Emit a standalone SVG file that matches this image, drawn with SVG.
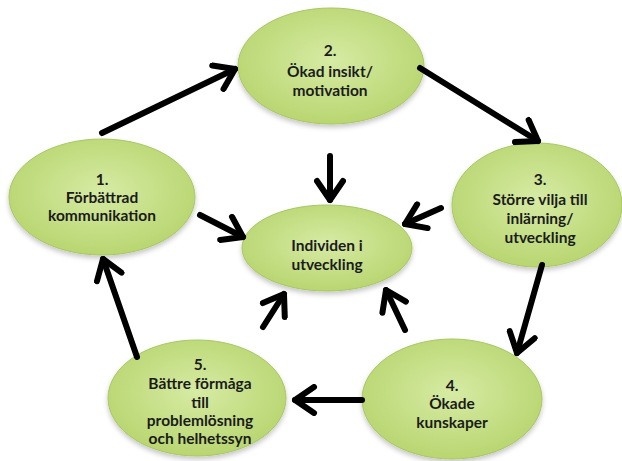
<svg xmlns="http://www.w3.org/2000/svg" width="622" height="461" viewBox="0 0 622 461">
  <defs>
    <radialGradient id="leaf" cx="50%" cy="45%" r="60%">
      <stop offset="0" stop-color="#d6eba4"/>
      <stop offset="1" stop-color="#b6d46c"/>
    </radialGradient>
    <filter id="soft" x="-10%" y="-10%" width="120%" height="130%">
      <feDropShadow dx="0" dy="3" stdDeviation="2.5" flood-color="#000" flood-opacity="0.22"/>
    </filter>
    <marker id="head" viewBox="-24 -16 28 32" markerWidth="28" markerHeight="32" refX="0" refY="0" orient="auto" markerUnits="userSpaceOnUse">
      <path d="M-19,-13 L0,0 L-19,13" fill="none" stroke="#000" stroke-width="6" stroke-linecap="round" stroke-linejoin="round"/>
    </marker>
  </defs>
  <style>
    .node ellipse { fill: url(#leaf); stroke: #a8c763; stroke-width: 1; filter: url(#soft); }
    .node text { font-family: "Lato", "Liberation Sans", sans-serif; font-weight: bold; font-size: 15.5px; fill: #1b1b1b; text-anchor: middle; }
    .links line { stroke: #000; stroke-width: 6; stroke-linecap: round; marker-end: url(#head); }
  </style>

  <g id="n2" class="node">
    <ellipse cx="331" cy="66" rx="93" ry="58"/>
    <text x="330" y="56">2.</text>
    <text x="330" y="77">Ökad insikt/</text>
    <text x="330" y="96">motivation</text>
  </g>

  <g id="n1" class="node">
    <ellipse cx="102" cy="197" rx="93" ry="58"/>
    <text x="102" y="185">1.</text>
    <text x="102" y="203">Förbättrad</text>
    <text x="102" y="221">kommunikation</text>
  </g>

  <g id="n3" class="node">
    <ellipse cx="537" cy="205" rx="85" ry="62"/>
    <text x="540" y="185">3.</text>
    <text x="540" y="205">Större vilja till</text>
    <text x="540" y="224">inlärning/</text>
    <text x="540" y="243">utveckling</text>
  </g>

  <g id="center" class="node">
    <ellipse cx="327" cy="248" rx="85" ry="43"/>
    <text x="327" y="251">Individen i</text>
    <text x="327" y="270">utveckling</text>
  </g>

  <g id="n5" class="node">
    <ellipse cx="197" cy="398" rx="89" ry="58"/>
    <text x="200" y="370">5.</text>
    <text x="200" y="389">Bättre förmåga</text>
    <text x="200" y="408">till</text>
    <text x="200" y="426">problemlösning</text>
    <text x="200" y="444">och helhetssyn</text>
  </g>

  <g id="n4" class="node">
    <ellipse cx="452" cy="399" rx="90" ry="60"/>
    <text x="452" y="391">4.</text>
    <text x="452" y="409">Ökade</text>
    <text x="452" y="428">kunskaper</text>
  </g>

  <g id="connectors" class="links">
    <!-- cycle -->
    <line x1="102" y1="133" x2="235" y2="69"/>
    <line x1="420" y1="68" x2="538" y2="141"/>
    <line x1="542" y1="265" x2="517" y2="353"/>
    <line x1="362" y1="400" x2="295" y2="400"/>
    <line x1="137" y1="357" x2="103" y2="259"/>
    <!-- into the centre -->
    <line x1="330" y1="156" x2="330" y2="200"/>
    <line x1="200" y1="215" x2="243" y2="237"/>
    <line x1="441" y1="208" x2="405" y2="224"/>
    <line x1="263" y1="327" x2="284" y2="294"/>
    <line x1="405" y1="330" x2="386" y2="290"/>
  </g>
</svg>
